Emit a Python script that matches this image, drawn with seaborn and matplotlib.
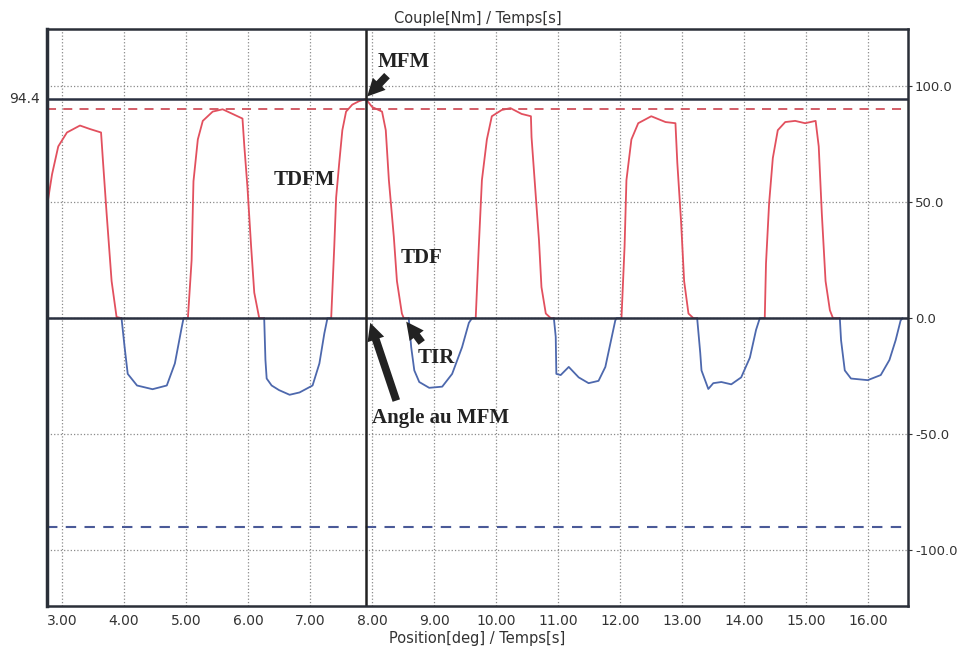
import numpy as np
import pandas as pd
import seaborn as sns
import matplotlib.pyplot as plt
import matplotlib.transforms as mtransforms

position = [2.76, 2.775, 2.84, 2.94, 3.08, 3.29, 3.45, 3.63, 3.66, 3.72, 3.80, 3.88,
            3.96, 4.01, 4.06, 4.21, 4.46, 4.69, 4.82, 4.93, 4.96,
            5.03, 5.09, 5.12, 5.19, 5.27, 5.43, 5.59, 5.75, 5.91, 5.94, 5.99, 6.05, 6.10, 6.18,
            6.26, 6.28, 6.30, 6.38, 6.50, 6.67, 6.83, 7.04, 7.15, 7.23, 7.28,
            7.34, 7.39, 7.42, 7.47, 7.52, 7.58, 7.68, 7.79, 7.90, 8.00, 8.16, 8.22, 8.27, 8.35, 8.40, 8.48, 8.51,
            8.59, 8.63, 8.68, 8.76, 8.92, 9.13, 9.29, 9.45, 9.56, 9.61,
            9.67, 9.72, 9.77, 9.85, 9.93, 10.09, 10.23, 10.41, 10.56, 10.57, 10.64, 10.69, 10.73, 10.80, 10.88,
            10.93, 10.96, 10.97, 11.04, 11.17, 11.33, 11.49, 11.65, 11.76, 11.84, 11.92, 11.94,
            12.02, 12.07, 12.10, 12.18, 12.29, 12.50, 12.73, 12.89, 12.92, 12.98, 13.03, 13.10, 13.18,
            13.24, 13.29, 13.31, 13.42, 13.50, 13.63, 13.79, 13.95, 14.09, 14.19, 14.25,
            14.33, 14.35, 14.40, 14.46, 14.54, 14.66, 14.82, 14.98, 15.15, 15.20, 15.25, 15.31, 15.38, 15.43,
            15.54, 15.56, 15.62, 15.72, 15.99, 16.20, 16.34, 16.44, 16.52, 16.55]
couple = [2, 51, 62, 74, 80, 83, 81.5, 80, 68, 45, 16, 0.5,
          0, -12.5, -24, -29, -30.6, -29, -19.5, -4, 0,
          0, 25, 59, 77, 85, 89, 90, 88, 86, 74, 56.5, 30.6, 11, 0,
          0, -18, -26, -29, -31, -33, -32, -29, -19.5, -6.5, 0,
          0, 31, 52, 67, 81, 89, 92, 93.5, 94.4, 91, 89, 81, 59.5, 35, 16, 2, 0,
          0, -12.5, -22.5, -27.5, -30, -29.5, -24, -12.5, -2, 0,
          0, 31, 59.5, 77, 87, 89.7, 90.5, 88, 87, 78, 52, 33.6, 13.4, 2, 0,
          0, -8, -24, -24.5, -21, -25.5, -28, -27, -21, -11, -1, 0,
          0, 31, 59.5, 77, 84, 87, 84.5, 84, 67, 42, 16, 2, 0,
          0, -15, -22.5, -30.5, -28, -27.5, -28.5, -25.5, -17, -5, 0,
          0, 23.6, 49.5, 69, 81, 84.5, 85, 84, 85, 74, 45, 16, 3.4, 0,
          0, -9.5, -22.5, -26, -26.7, -24.5, -18, -9.5, -1, 0]

mfm = 94.4
pos_mfm = 7.90
limite = 90
x_ticks = [3, 4, 5, 6, 7, 8, 9, 10, 11, 12, 13, 14, 15, 16]
y_ticks = [-100, -50, 0, 50, 100]

# découpage en segments positifs (rouge) / négatifs (bleu)
rows = []
seg = 0
cur_sign = 1
for i, (x, y) in enumerate(zip(position, couple)):
    s = np.sign(y)
    if s != 0 and s != cur_sign:
        seg += 1
        cur_sign = s
        rows.append((position[i - 1], couple[i - 1], seg, 'pos' if s > 0 else 'neg'))
    rows.append((x, y, seg, 'pos' if cur_sign > 0 else 'neg'))
df = pd.DataFrame(rows, columns=['position', 'couple', 'segment', 'signe'])

sns.set_style('white')
fig = plt.figure(figsize=(9.61, 6.54), dpi=100)
ax = fig.add_axes([0.049, 0.0734, 0.8959, 0.8823])

sns.lineplot(data=df, x='position', y='couple', hue='signe', units='segment',
             estimator=None, sort=False, legend=False, lw=1.3,
             palette={'pos': '#e2505e', 'neg': '#4d68ad'}, ax=ax)

ax.axhline(limite, color='#d0505c', ls=(0, (5, 4)), lw=1.3)
ax.axhline(-limite, color='#4a5a98', ls=(0, (5, 4)), lw=1.5)
ax.axhline(mfm, color='#2a3040', lw=1.8)
ax.axhline(0, color='#2a3040', lw=1.8)
ax.axvline(pos_mfm, color='#222', lw=1.8)

ax.set_xlim(2.76, 16.64)
ax.set_ylim(-124, 124.6)
ax.set_xticks(x_ticks)
ax.set_xticklabels(['%.2f' % v for v in x_ticks])
ax.yaxis.tick_right()
ax.set_yticks(y_ticks)
ax.set_yticklabels(['%.1f' % v for v in y_ticks])
ax.tick_params(axis='x', labelsize=10, colors='#333', length=0, pad=6)
ax.tick_params(axis='y', labelsize=9.5, colors='#333', length=3, pad=2)
ax.grid(True, ls=':', color='#8a8a8a', lw=0.9)
for sp in ax.spines.values():
    sp.set_color('#2a2f38')
    sp.set_linewidth(1.8)
ax.spines['left'].set_linewidth(2.5)

ax.set_xlabel('Position[deg] / Temps[s]', fontsize=10.5, color='#333', labelpad=2)
ax.set_ylabel('')
ax.set_title('Couple[Nm] / Temps[s]', fontsize=10.5, color='#333', pad=4)

trans = mtransforms.blended_transform_factory(ax.transAxes, ax.transData)
ax.text(-0.008, mfm, '94.4', transform=trans, ha='right', va='center', fontsize=10, color='#333')

serif = dict(family='Liberation Serif', weight='bold', size=15, color='#222')
arrow = dict(arrowstyle='simple,head_length=0.9,head_width=0.9,tail_width=0.4',
             fc='#222', ec='none', mutation_scale=14, shrinkA=0, shrinkB=0)
ax.annotate('', xy=(7.92, 95.5), xytext=(8.24, 104.5), arrowprops=arrow)
ax.text(8.51, 110.3, 'MFM', ha='center', va='center', **serif)
ax.text(6.91, 59.5, 'TDFM', ha='center', va='center', **serif)
ax.text(8.80, 25.9, 'TDF', ha='center', va='center', **serif)
ax.annotate('', xy=(8.55, -1.5), xytext=(8.80, -10.5), arrowprops=arrow)
ax.text(9.03, -17.2, 'TIR', ha='center', va='center', **serif)
ax.annotate('', xy=(7.97, -2.0), xytext=(8.39, -35.5), arrowprops=arrow)
ax.text(9.11, -43.1, 'Angle au MFM', ha='center', va='center', **serif)

fig.savefig('out.png', dpi=100)
